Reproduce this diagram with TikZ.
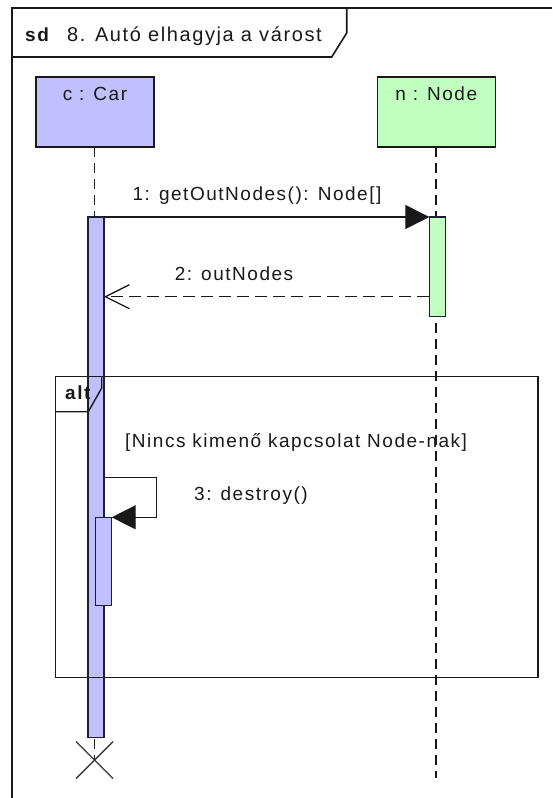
\documentclass[tikz,border=0pt]{standalone}
\usepackage{fontspec}
\setmainfont{Liberation Sans}[LetterSpace=8]
\usetikzlibrary{arrows.meta,calc}
\definecolor{carfill}{RGB}{192,192,255}
\definecolor{nodefill}{RGB}{192,255,192}
\definecolor{ink}{RGB}{25,25,25}
\definecolor{barline}{RGB}{30,30,50}
\tikzset{
  frameline/.style={draw=ink, line width=1.6pt},
  lifebox/.style={draw=ink, line width=1.4pt, minimum width=118pt, minimum height=70pt, inner sep=0pt, outer sep=0pt},
  actbar/.style={draw=barline, line width=1.2pt, minimum width=16pt, inner sep=0pt, outer sep=0pt, anchor=north},
  lifeline/.style={draw=ink, line width=1.2pt, dash pattern=on 10pt off 6pt},
  callmsg/.style={draw=ink, line width=1.3pt, -{Triangle[length=24pt,width=24pt]}},
  retmsg/.style={draw=ink, line width=1.3pt, dash pattern=on 12pt off 6pt, -{Straight Barb[length=24pt,width=24pt,line width=1.3pt]}},
  txt/.style={text=ink, font=\fontsize{19}{22}\selectfont, inner sep=0pt, anchor=base},
  tagtxt/.style={text=ink, font=\fontsize{19}{22}\selectfont\bfseries, inner sep=0pt, anchor=base west},
  killmark/.style={draw=ink!85, line width=1.4pt}
}
\begin{document}
\begin{tikzpicture}[x=1pt,y=-1pt]
\useasboundingbox[fill=white] (0,0) rectangle (552,798);

% outer interaction frame with its name tab
\draw[frameline] (552,8) -- (12,8) -- (12,798);
\draw[frameline] (12,57) -- (331.7,57) -- (346.7,33) -- (346.7,8);
\node[tagtxt] (sdtag) at (25,41.5) {sd};
\node[txt, anchor=base west, font=\fontsize{20}{24}\selectfont] (title) at (67,41.5) {8. Autó elhagyja a várost};

% lifeline heads
\node[lifebox, fill=carfill] (car) at (95,112) {};
\node[txt] (carname) at (95,100.7) {c : Car};
\node[lifebox, fill=nodefill] (node) at (436.3,112) {};
\node[txt] (nodename) at (436.3,100.7) {n : Node};

% lifelines
\coordinate (kill) at (94.5,760);
\coordinate (nodeend) at (436,778);
\draw[lifeline] (car.south -| kill) -- (kill);
\draw[lifeline] (node.south -| nodeend) -- (nodeend);

% activation bars
\node[actbar, fill=carfill, minimum height=520.7pt] (cact) at (96,217) {};
\node[actbar, fill=nodefill, minimum height=99.7pt] (nact) at (437.3,217) {};
\node[actbar, fill=carfill, minimum height=88.4pt] (sact) at (103.7,517.3) {};

% 1: call
\draw[callmsg] (cact.north east) -- (nact.north west);
\node[txt] (m1) at (257,200) {1: getOutNodes(): Node[]};

% 2: reply
\coordinate (rety) at (0,296.7);
\draw[retmsg] (nact.west |- rety) -- (cact.east |- rety);
\node[txt] (m2) at (234,280) {2: outNodes};

% alt combined fragment
\node[draw=ink, line width=1.5pt, minimum width=482.3pt, minimum height=301pt, inner sep=0pt, outer sep=0pt, anchor=north west] (alt) at (55.7,376.7) {};
\draw[draw=ink, line width=1.4pt] (55.7,411.7) -- (88.3,411.7) -- (101.7,388) -- (101.7,376.7);
\node[tagtxt] (alttag) at (65,399.3) {alt};
\node[txt, anchor=base west] (guard) at (125,447.3) {[Nincs kimenő kapcsolat Node-nak]};

% 3: self call
\coordinate (loop) at (156.7,477.3);
\draw[callmsg] (cact.east |- loop) -- (loop) |- (sact.north east);
\node[txt] (m3) at (251,500) {3: destroy()};

% destruction mark
\draw[killmark] ($(kill)+(-18.5,-18.5)$) -- ($(kill)+(18.5,18.5)$);
\draw[killmark] ($(kill)+(-18.5,18.5)$) -- ($(kill)+(18.5,-18.5)$);
\end{tikzpicture}
\end{document}
